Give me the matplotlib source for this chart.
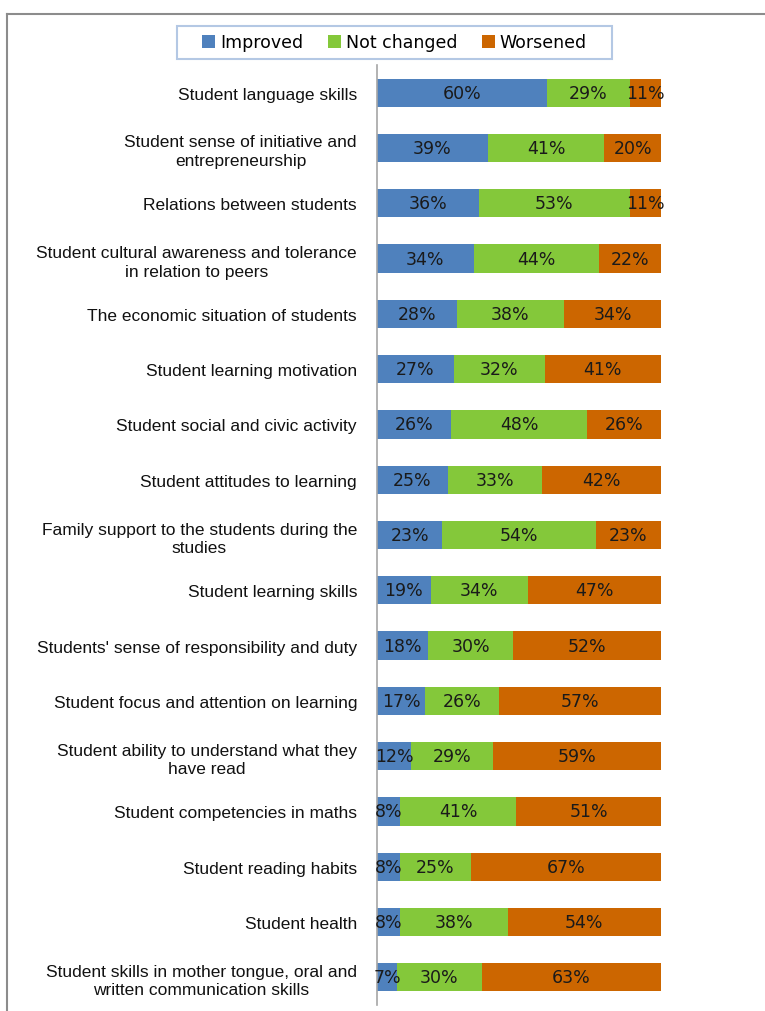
import matplotlib.pyplot as plt
from matplotlib.lines import Line2D
from matplotlib.patches import Rectangle
import numpy as np

categories = [
    "Student language skills",
    "Student sense of initiative and\nentrepreneurship",
    "Relations between students",
    "Student cultural awareness and tolerance\nin relation to peers",
    "The economic situation of students",
    "Student learning motivation",
    "Student social and civic activity",
    "Student attitudes to learning",
    "Family support to the students during the\nstudies",
    "Student learning skills",
    "Students' sense of responsibility and duty",
    "Student focus and attention on learning",
    "Student ability to understand what they\nhave read",
    "Student competencies in maths",
    "Student reading habits",
    "Student health",
    "Student skills in mother tongue, oral and\nwritten communication skills",
]
improved = [60, 39, 36, 34, 28, 27, 26, 25, 23, 19, 18, 17, 12, 8, 8, 8, 7]
not_changed = [29, 41, 53, 44, 38, 32, 48, 33, 54, 34, 30, 26, 29, 41, 25, 38, 30]
worsened = [11, 20, 11, 22, 34, 41, 26, 42, 23, 47, 52, 57, 59, 51, 67, 54, 63]

series = [("Improved", improved, "#4f81bd"),
          ("Not changed", not_changed, "#84c83a"),
          ("Worsened", worsened, "#cc6600")]

W, H = 765, 1012
fig = plt.figure(figsize=(W / 100, H / 100), dpi=100)
ax = fig.add_axes([377 / W, 1 - 1006 / H, 284 / W, 940 / H])

y = np.arange(len(categories))
left = np.zeros(len(categories))
for name, vals, color in series:
    vals = np.array(vals, dtype=float)
    ax.barh(y, vals, left=left, height=0.51, color=color, label=name)
    for yi, l, v in zip(y, left, vals):
        ax.text(l + v / 2, yi, f"{int(v)}%", ha="center", va="center",
                fontsize=12.5, color="#1a1a1a", family="DejaVu Sans")
    left += vals

ax.set_xlim(0, 100)
ax.set_ylim(len(categories) - 0.5, -0.5)
ax.set_xticks([])
ax.set_yticks(y)
ax.set_yticklabels(categories, fontsize=12.5, family="Liberation Sans",
                   color="#111111", multialignment="center", linespacing=1.3)
ax.tick_params(axis="y", length=0, pad=14.4)
for side in ["top", "right", "bottom"]:
    ax.spines[side].set_visible(False)
ax.spines["left"].set_color("#a6a6a6")
ax.spines["left"].set_linewidth(1.2)

# legend with its own box drawn separately
leg = fig.legend(loc="center", bbox_to_anchor=(394.5 / W, 1 - 43.5 / H),
                 ncol=3, frameon=False, handlelength=0.75, handleheight=0.75,
                 handletextpad=0.3, columnspacing=1.4,
                 prop={"family": "DejaVu Sans", "size": 12.5})
fig.add_artist(Rectangle((177 / W, 1 - 60 / H), 435 / W, 33 / H,
                         transform=fig.transFigure, fill=False,
                         edgecolor="#b4c8e4", lw=1.5))

# outer frame, top and left edges
fig.add_artist(Line2D([7 / W, 7 / W], [0, 1 - 15 / H],
                      color="#8c8c8c", lw=1.5, transform=fig.transFigure))
fig.add_artist(Line2D([7 / W, 1], [1 - 15 / H, 1 - 15 / H],
                      color="#8c8c8c", lw=1.5, transform=fig.transFigure))

fig.savefig("out.png", dpi=100)
